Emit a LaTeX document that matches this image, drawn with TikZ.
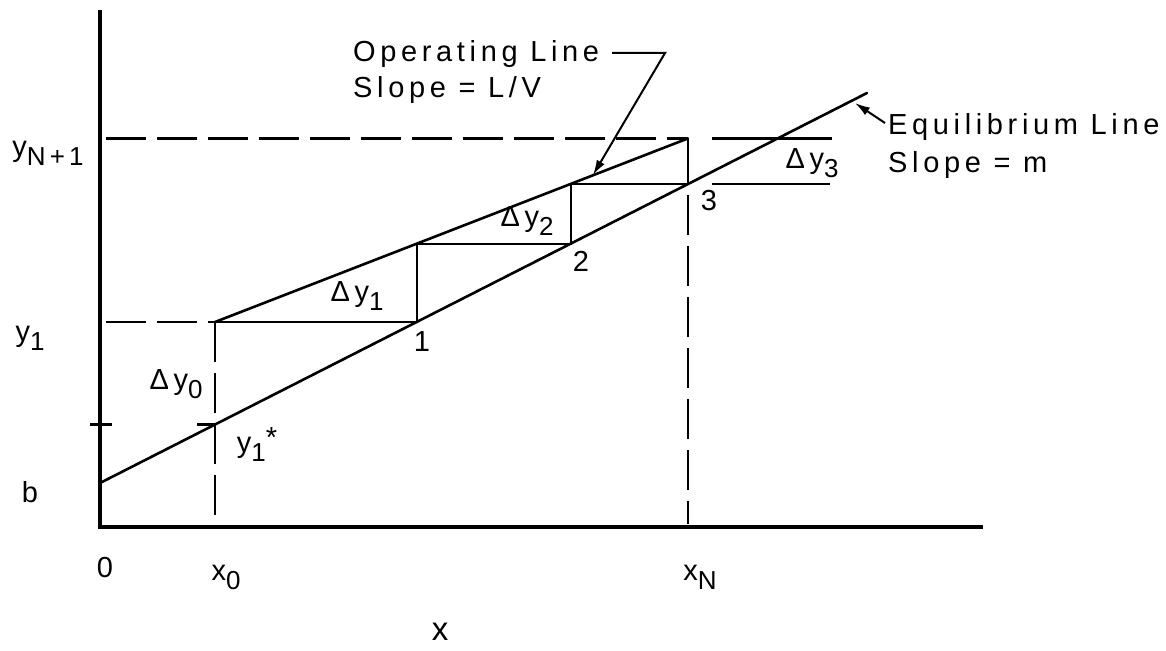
\documentclass[tikz,border=0pt]{standalone}
\usepackage{fontspec}
\setmainfont{Liberation Sans}[LetterSpace=16]
\usetikzlibrary{arrows.meta}
\newcommand\lsub[1]{\raisebox{-9pt}{\fontsize{26}{26}\selectfont #1}}
\begin{document}
\begin{tikzpicture}[x=1pt,y=-1pt,
  lbl/.style={inner sep=0pt, font=\fontsize{29}{35}\selectfont},
  axisline/.style={line width=3.2pt, line join=miter},
  curve/.style={line width=2.6pt, line cap=round},
  thinline/.style={line width=2.2pt},
  dashline/.style={line width=2.4pt, dash pattern=on 40pt off 11pt},
  leader/.style={line width=2pt, -{Latex[length=15pt,width=9pt]}}]
\useasboundingbox (0,0) rectangle (1166,650);
% key points
\coordinate (O) at (100,527);
\coordinate (Ytop) at (100,10);
\coordinate (Xend) at (983,527);
\coordinate (B) at (100,483);
\coordinate (E) at (867,93);
\coordinate (P0) at (215,322);
\coordinate (S1) at (416.6,322);
\coordinate (T1) at (416.6,243.7);
\coordinate (S2) at (570.6,243.7);
\coordinate (T2) at (570.6,184);
\coordinate (S3) at (688,184);
\coordinate (T3) at (688,138.4);
% axes
\draw[axisline] (Ytop) -- (O) -- (Xend);
% dashed guides
\coordinate (YNL) at (106,138.4);
\coordinate (Y1L) at (106,322);
\coordinate (XOb) at (215,524);
\coordinate (XNb) at (688,524);
\draw[dashline] (YNL) -- (T3);
\draw[dashline] (Y1L) -- (P0);
\draw[dashline] (P0) -- (XOb);
\draw[dashline, dash phase=40pt] (S3) -- (XNb);
% equilibrium and operating lines
\draw[curve] (B) -- (E);
\draw[curve] (P0) -- (T3);
% steps
\draw[thinline] (P0) -- (S1) -- (T1) -- (S2) -- (T2) -- (S3) -- (T3);
% delta y3 bracket lines
\coordinate (D3a) at (712,138.4);
\coordinate (D3b) at (832,138.4);
\coordinate (D3c) at (712,184);
\coordinate (D3d) at (830,184);
\draw[thinline] (D3a) -- (D3b);
\draw[thinline] (D3c) -- (D3d);
% ticks
\coordinate (TkA) at (90,424.5);
\coordinate (TkB) at (112,424.5);
\coordinate (TkC) at (197,424.5);
\coordinate (TkD) at (215,424.5);
\draw[thinline] (TkA) -- (TkB);
\draw[thinline] (TkC) -- (TkD);
% axis labels
\node[lbl] (lO) at (105,568) {0};
\node[lbl] (lxO) at (226,577) {x\lsub{0}};
\node[lbl] (lxN) at (700,577) {x\lsub{N}};
\node[lbl, font=\fontsize{33}{33}\selectfont] (lx) at (440,632) {x};
\node[lbl] (lyN) at (48,153) {y\lsub{N+1}};
\node[lbl] (ly1) at (30,338) {y\lsub{1}};
\node[lbl] (lb) at (30,492) {b};
% inner labels
\node[lbl] (ldy0) at (176,384) {Δy\lsub{0}};
\node[lbl] (lys) at (257,445) {y\lsub{1}\raisebox{5pt}{*}};
\node[lbl] (ldy1) at (357,296) {Δy\lsub{1}};
\node[lbl] (ldy2) at (527,221) {Δy\lsub{2}};
\node[lbl] (ldy3) at (812,163) {Δy\lsub{3}};
\node[lbl] (l1) at (422,342) {1};
\node[lbl] (l2) at (581,261) {2};
\node[lbl] (l3) at (709,201) {3};
% annotations
\node[lbl, anchor=base west] (op1) at (353,62) {Operating Line};
\node[lbl, anchor=base west] (op2) at (353,98) {Slope = L/V};
\node[lbl, anchor=base west] (eq1) at (888,134) {Equilibrium Line};
\node[lbl, anchor=base west] (eq2) at (888,172) {Slope = m};
\coordinate (OpA) at (612,53);
\coordinate (OpB) at (665,53);
\coordinate (OpTip) at (593,175);
\draw[leader] (OpA) -- (OpB) -- (OpTip);
\coordinate (EqA) at (885,123);
\coordinate (EqTip) at (855,103);
\draw[leader] (EqA) -- (EqTip);
\end{tikzpicture}
\end{document}
